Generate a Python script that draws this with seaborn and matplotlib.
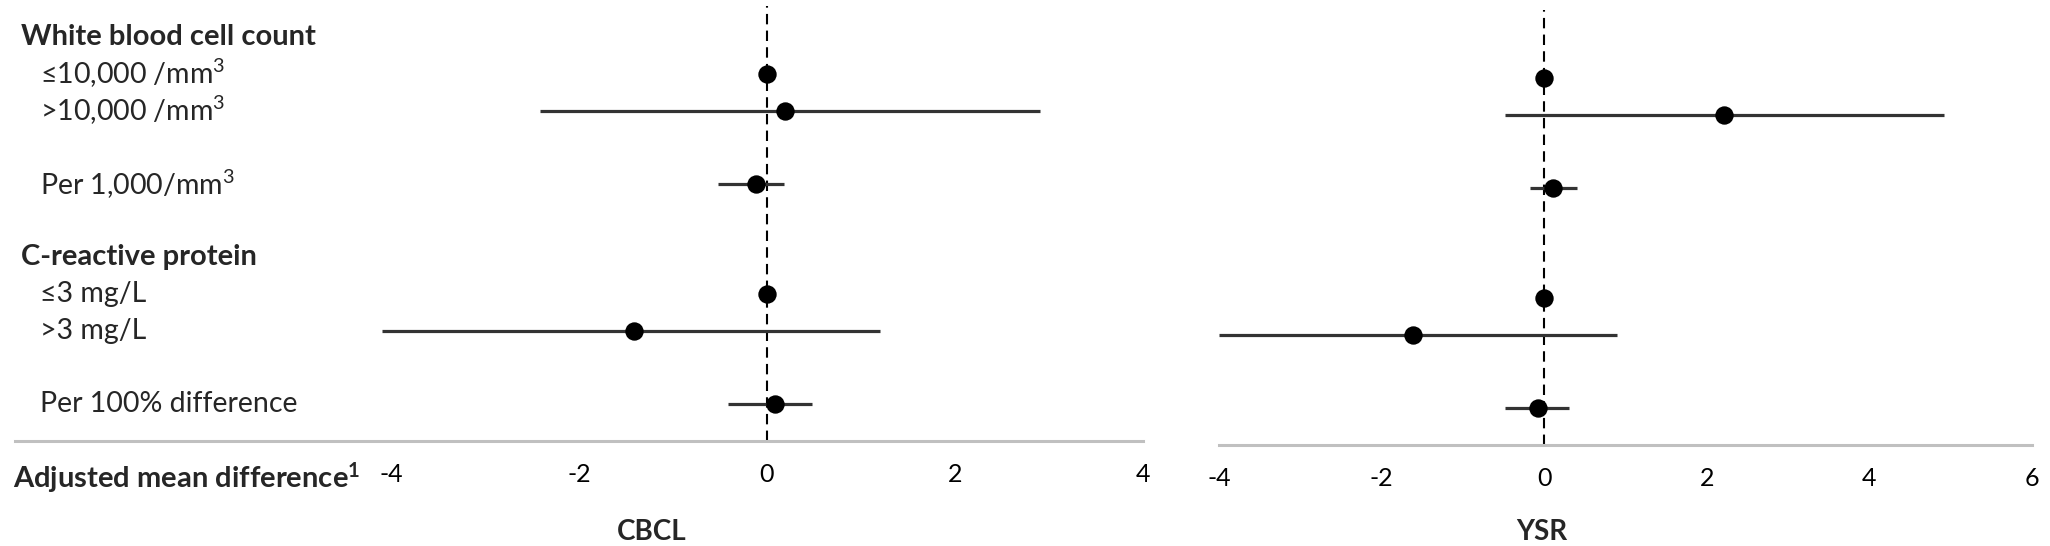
import numpy as np
import pandas as pd
import matplotlib
matplotlib.use('Agg')
import matplotlib.pyplot as plt
import seaborn as sns

# rows of the forest plot, top to bottom ("" = spacer row)
row_labels = ['White blood cell count', '≤10,000 /mm$^3$', '>10,000 /mm$^3$', '',
              'Per 1,000/mm$^3$', '', 'C-reactive protein', '≤3 mg/L', '>3 mg/L',
              '', 'Per 100% difference']
header_rows = ['White blood cell count', 'C-reactive protein']

# rows that carry an estimate
est_rows = ['≤10,000 /mm$^3$', '>10,000 /mm$^3$', 'Per 1,000/mm$^3$',
            '≤3 mg/L', '>3 mg/L', 'Per 100% difference']

cbcl_est = [0.0, 0.19, -0.12, 0.0, -1.41, 0.08]
cbcl_lo = [np.nan, -2.41, -0.52, np.nan, -4.10, -0.41]
cbcl_hi = [np.nan, 2.90, 0.18, np.nan, 1.20, 0.48]

ysr_est = [0.0, 2.21, 0.11, 0.0, -1.61, -0.08]
ysr_lo = [np.nan, -0.48, -0.18, np.nan, -4.00, -0.48]
ysr_hi = [np.nan, 4.92, 0.40, np.nan, 0.90, 0.31]

cbcl_ticks = [-4, -2, 0, 2, 4]
ysr_ticks = [-4, -2, 0, 2, 4, 6]

sns.set_style('white')
plt.rcParams['font.family'] = ['Lato', 'DejaVu Sans']
plt.rcParams['mathtext.fontset'] = 'custom'
plt.rcParams['mathtext.rm'] = 'Lato'
plt.rcParams['mathtext.bf'] = 'Lato:bold'
plt.rcParams['mathtext.default'] = 'regular'

W, H = 2050, 546
fig = plt.figure(figsize=(W / 100, H / 100), dpi=100)

row_pos = {lab: i for i, lab in enumerate(row_labels) if lab}


def panel(rect, est, lo, hi, xlim, ticks):
    ax = fig.add_axes(rect)
    df = pd.DataFrame({'row': [row_pos[r] for r in est_rows],
                       'est': est, 'lo': lo, 'hi': hi})
    ci = df.dropna()
    ax.hlines(ci['row'], ci['lo'], ci['hi'], color='#333333', lw=2.3, zorder=2)
    sns.scatterplot(data=df, x='est', y='row', ax=ax, color='black', s=175,
                    edgecolor='black', linewidth=0, zorder=3, legend=False)
    ax.axvline(0, color='black', lw=1.5, dashes=(5, 3), zorder=1)
    ax.set_xlim(*xlim)
    ax.set_ylim(len(row_labels), -0.85)
    ax.set_xticks(ticks)
    ax.set_xticklabels([str(t) for t in ticks])
    ax.set_yticks([])
    ax.set_xlabel('')
    ax.set_ylabel('')
    for s in ['top', 'right', 'left']:
        ax.spines[s].set_visible(False)
    ax.spines['bottom'].set_color('#c0c0c0')
    ax.spines['bottom'].set_linewidth(2.2)
    ax.tick_params(axis='x', length=0, pad=16, labelsize=18, colors='black')
    return ax


def px_rect(x0, x1, ybot, ytop):
    return [x0 / W, (H - ybot) / H, (x1 - x0) / W, (ybot - ytop) / H]


ax1 = panel(px_rect(15, 1143, 441, 6), cbcl_est, cbcl_lo, cbcl_hi,
            (-8, 4), cbcl_ticks)
ax2 = panel(px_rect(1219, 2032, 445, 10), ysr_est, ysr_lo, ysr_hi,
            (-4, 6), ysr_ticks)

# row labels on the left
tr = ax1.get_yaxis_transform()
for lab, i in row_pos.items():
    if lab in header_rows:
        ax1.text(0.005, i, lab, transform=tr, ha='left', va='center',
                 fontsize=21, fontweight='bold')
    else:
        ax1.text(0.022, i, lab, transform=tr, ha='left', va='center',
                 fontsize=20.5)

fig.text(13 / W, 1 - 478 / H, r'Adjusted mean difference$^\mathbf{1}$',
         ha='left', va='center', fontsize=21, fontweight='bold')
fig.text(652 / W, 1 - 532 / H, 'CBCL', ha='center', va='center',
         fontsize=20, fontweight='bold')
fig.text(1542 / W, 1 - 532 / H, 'YSR', ha='center', va='center',
         fontsize=20, fontweight='bold')

fig.savefig('out.png', dpi=100)
